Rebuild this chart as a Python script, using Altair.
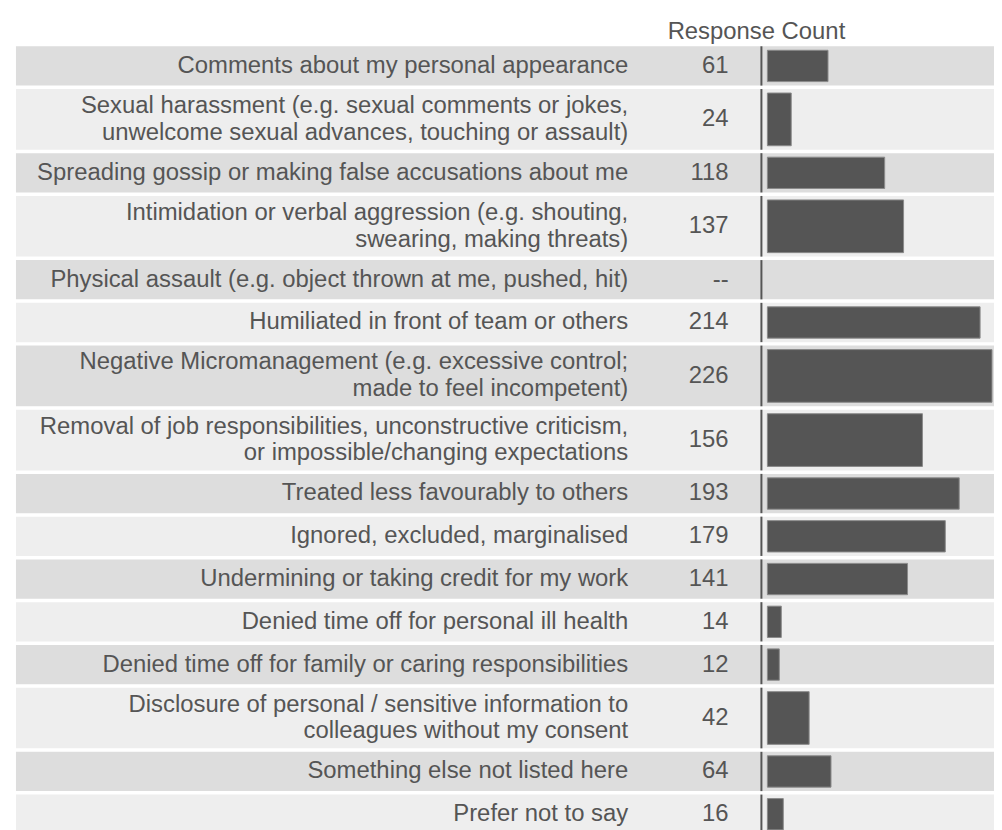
import altair as alt
import pandas as pd

labels = [
    "Comments about my personal appearance",
    "Sexual harassment (e.g. sexual comments or jokes,\nunwelcome sexual advances, touching or assault)",
    "Spreading gossip or making false accusations about me",
    "Intimidation or verbal aggression (e.g. shouting,\nswearing, making threats)",
    "Physical assault (e.g. object thrown at me, pushed, hit)",
    "Humiliated in front of team or others",
    "Negative Micromanagement (e.g. excessive control;\nmade to feel incompetent)",
    "Removal of job responsibilities, unconstructive criticism,\nor impossible/changing expectations",
    "Treated less favourably to others",
    "Ignored, excluded, marginalised",
    "Undermining or taking credit for my work",
    "Denied time off for personal ill health",
    "Denied time off for family or caring responsibilities",
    "Disclosure of personal / sensitive information to \ncolleagues without my consent",
    "Something else not listed here",
    "Prefer not to say",
]
counts = [61, 24, 118, 137, None, 214, 226, 156, 193, 179, 141, 14, 12, 42, 64, 16]
header = "Response Count"

# layout derived from the number of text lines in each label
UNIT_PX = 21.51
LINE_H = 27
GAP = 3.5 / UNIT_PX
INSET = 4.0 / UNIT_PX
rows = []
top = 0.0
for i, (lab, c) in enumerate(zip(labels, counts)):
    n_lines = lab.count("\n") + 1
    units = 1 + n_lines
    band_end = top + units - GAP
    mid = top + (units - GAP) / 2
    rows.append({
        "label": lab,
        "count": c,
        "count_text": "--" if c is None else str(c),
        "shade": "a" if i % 2 == 0 else "b",
        "top": top,
        "band_end": band_end,
        "bar_top": top + INSET,
        "bar_end": band_end - INSET,
        "mid": mid,
        "label_y": mid - (n_lines - 1) * LINE_H / 2 / UNIT_PX,
    })
    top += units
df = pd.DataFrame(rows)
total_units = top

W = 986
H = 814
ysc = alt.Scale(domain=[0, total_units], range=[36, 36 + total_units * UNIT_PX], nice=False, zero=False)
FONT = "Liberation Sans"
TXT = "#555555"

base = alt.Chart(df)

bands = base.mark_rect().encode(
    x=alt.value(8), x2=alt.value(992),
    y=alt.Y("top:Q", scale=ysc, axis=None), y2="band_end:Q",
    color=alt.Color("shade:N", scale=alt.Scale(domain=["a", "b"], range=["#dddddd", "#eeeeee"]), legend=None),
)

rules = base.mark_rule(color="#555555", strokeWidth=2).encode(
    x=alt.value(758),
    y=alt.Y("top:Q", scale=ysc, axis=None), y2="band_end:Q",
)

bars = base.transform_filter("isValid(datum.count)").mark_rect(
    color="#555555", stroke="#8a8a8a", strokeWidth=1
).encode(
    x=alt.X("count:Q", scale=alt.Scale(domain=[0, 226], range=[764, 990], nice=False), axis=None),
    x2=alt.datum(0),
    y=alt.Y("bar_top:Q", scale=ysc, axis=None), y2="bar_end:Q",
)

label_text = base.mark_text(
    align="right", baseline="middle", font=FONT, fontSize=24, color=TXT,
    lineBreak="\n", lineHeight=LINE_H,
).encode(
    x=alt.value(624),
    y=alt.Y("label_y:Q", scale=ysc, axis=None),
    text="label:N",
)

count_text = base.mark_text(
    align="right", baseline="middle", font=FONT, fontSize=24, color=TXT,
).encode(
    x=alt.value(725),
    y=alt.Y("mid:Q", scale=ysc, axis=None),
    text="count_text:N",
)

head = alt.Chart(pd.DataFrame({"t": [header]})).mark_text(
    align="center", baseline="middle", font=FONT, fontSize=24, color=TXT,
).encode(x=alt.value(753), y=alt.value(22), text="t:N")

chart = alt.layer(bands, rules, bars, label_text, count_text, head).properties(
    width=W, height=H, padding=0
).configure_view(strokeWidth=0)

chart.save("out.html", embed_options={"renderer": "svg", "actions": False})
